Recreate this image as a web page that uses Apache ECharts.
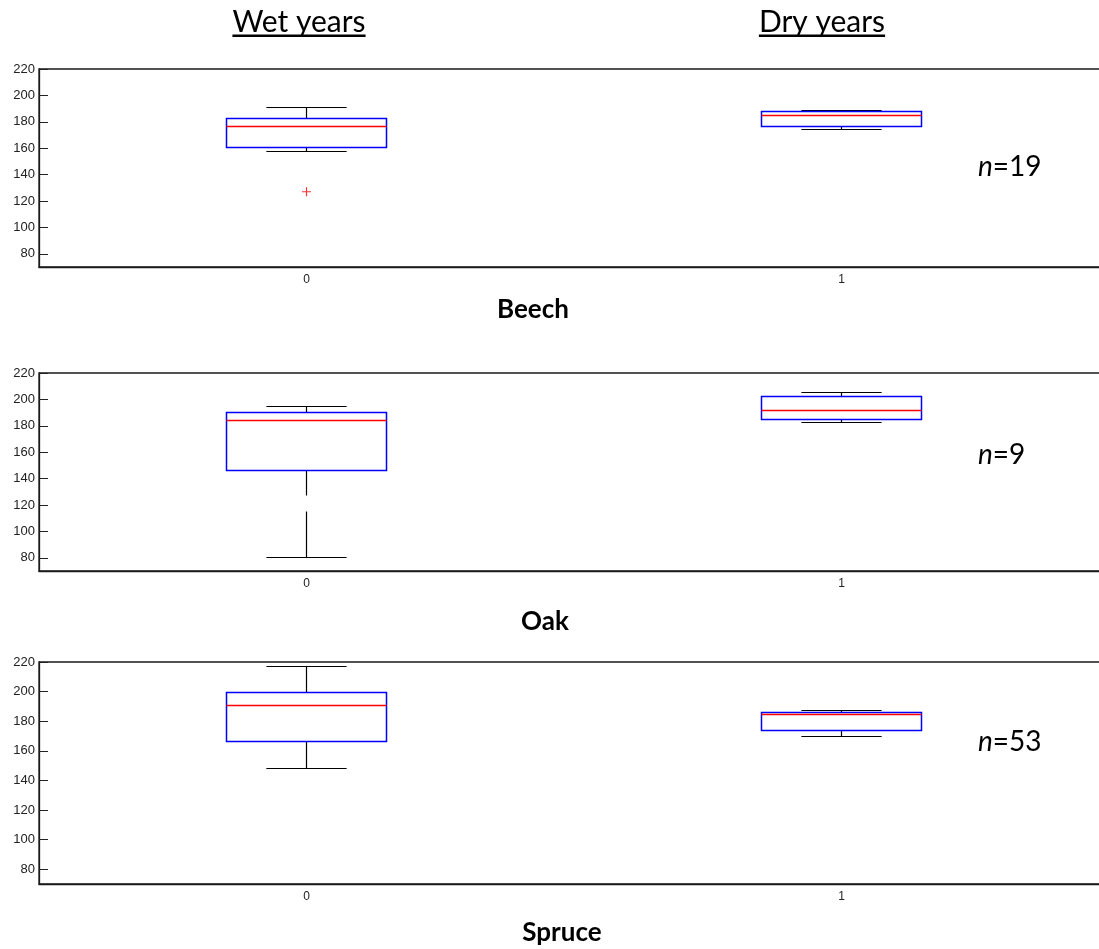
<!DOCTYPE html>
<html>
<head>
<meta charset="utf-8">
<script src="https://cdn.jsdelivr.net/npm/echarts@6/dist/echarts.min.js"></script>
<style>
html,body{margin:0;padding:0;background:#fff;}
#chart{width:1099px;height:949px;}
</style>
</head>
<body>
<div id="chart"></div>
<script>
// ---------- data ----------
const categories = ['0', '1'];
const groupTitles = ['Wet years', 'Dry years'];
const species = ['Beech', 'Oak', 'Spruce'];
const sampleSizes = ['19', '9', '53'];
const yTicks = [80, 100, 120, 140, 160, 180, 200, 220];
// each box: [lower whisker, Q1, median, Q3, upper whisker]
const beechWet = [157.3, 160.3, 176.3, 182.4, 190.5];
const beechDry = [173.8, 176.6, 184.7, 187.7, 188.8];
const oakWet = [80.3, 146.0, 183.8, 190.3, 194.4];
const oakDry = [182.2, 184.5, 191.4, 202.0, 205.3];
const spruceWet = [147.9, 166.4, 190.7, 199.3, 217.1];
const spruceDry = [170.0, 173.6, 184.8, 186.0, 186.9];
// outliers: [category index, value]
const beechOutliers = [[0, 127]];
const oakOutliers = [];
const spruceOutliers = [];
// visible break in the lower whisker of Oak / wet years: [from, to]
const oakWetWhiskerGap = [115, 127.2];

const panels = [
  { boxes: [beechWet, beechDry], gaps: [null, null], outliers: beechOutliers },
  { boxes: [oakWet, oakDry], gaps: [oakWetWhiskerGap, null], outliers: oakOutliers },
  { boxes: [spruceWet, spruceDry], gaps: [null, null], outliers: spruceOutliers }
];

// ---------- layout ----------
const gridPos = [
  { top: 69, height: 198 },
  { top: 373, height: 198 },
  { top: 662, height: 222 }
];
const AXIS_COLOR = '#1a1a1a';
const TICK_FONT = '"Liberation Sans", Arial, sans-serif';
const TEXT_FONT = 'Lato, "Open Sans", sans-serif';
const LW = 1.2;
const LW_COLOR = 1.5;

function crisp(v) { return Math.round(v - 0.5) + 0.5; }

function renderBox(params, api) {
  const ci = api.value(0);
  const lo = api.value(1), q1 = api.value(2), md = api.value(3), q3 = api.value(4), hi = api.value(5);
  const g1 = api.value(6), g2 = api.value(7);
  const band = api.size([1, 0])[0];
  const cx = crisp(api.coord([ci, md])[0]);
  const y = v => crisp(api.coord([ci, v])[1]);
  const boxHalf = band * 0.15, capHalf = band * 0.075;
  const blk = () => ({ stroke: '#000000', lineWidth: LW });
  const children = [];
  children.push({ type: 'line', shape: { x1: cx, y1: y(q3), x2: cx, y2: y(hi) }, style: blk() });
  if (!isNaN(g1) && !isNaN(g2)) {
    children.push({ type: 'line', shape: { x1: cx, y1: y(q1), x2: cx, y2: y(g2) }, style: blk() });
    children.push({ type: 'line', shape: { x1: cx, y1: y(g1), x2: cx, y2: y(lo) }, style: blk() });
  } else {
    children.push({ type: 'line', shape: { x1: cx, y1: y(q1), x2: cx, y2: y(lo) }, style: blk() });
  }
  children.push({ type: 'line', shape: { x1: cx - capHalf, y1: y(hi), x2: cx + capHalf, y2: y(hi) }, style: blk() });
  children.push({ type: 'line', shape: { x1: cx - capHalf, y1: y(lo), x2: cx + capHalf, y2: y(lo) }, style: blk() });
  const x0 = crisp(cx - boxHalf), x1 = crisp(cx + boxHalf);
  children.push({ type: 'rect', shape: { x: x0, y: y(q3), width: x1 - x0, height: y(q1) - y(q3) },
    style: { fill: 'none', stroke: '#0000ff', lineWidth: LW_COLOR } });
  children.push({ type: 'line', shape: { x1: x0, y1: y(md), x2: x1, y2: y(md) },
    style: { stroke: '#ff0000', lineWidth: LW_COLOR } });
  return { type: 'group', children: children };
}

const grids = [], xAxes = [], yAxes = [], series = [];
panels.forEach((p, i) => {
  grids.push({ left: 39, right: -10, top: gridPos[i].top, height: gridPos[i].height,
    outerBoundsMode: 'none', containLabel: false,
    show: true, borderColor: AXIS_COLOR, borderWidth: 1.3, backgroundColor: 'transparent' });
  xAxes.push({ type: 'category', gridIndex: i, data: categories, boundaryGap: true,
    axisLine: { lineStyle: { color: AXIS_COLOR, width: 1.3 } }, axisTick: { show: false },
    axisLabel: { color: '#222', fontSize: 12, fontFamily: TICK_FONT, margin: 7 }, splitLine: { show: false } });
  yAxes.push({ type: 'value', gridIndex: i, min: 70, max: 220, position: 'left',
    axisLine: { show: true, lineStyle: { color: AXIS_COLOR, width: 1.3 } },
    axisTick: { show: true, inside: true, length: 9, customValues: yTicks, lineStyle: { color: '#222' } },
    axisLabel: { customValues: yTicks, color: '#222', fontSize: 13, fontFamily: TICK_FONT, margin: 4 },
    splitLine: { show: false } });
  yAxes.push({ type: 'value', gridIndex: i, min: 70, max: 220, position: 'right',
    axisLine: { show: false },
    axisTick: { show: true, inside: true, length: 10, customValues: yTicks, lineStyle: { color: '#bbb' } },
    axisLabel: { show: false }, splitLine: { show: false } });
  series.push({ type: 'custom', xAxisIndex: i, yAxisIndex: i * 2, renderItem: renderBox, clip: false,
    encode: { x: 0, y: [1, 2, 3, 4, 5] },
    data: p.boxes.map((b, ci) => [ci, b[0], b[1], b[2], b[3], b[4],
      p.gaps[ci] ? p.gaps[ci][0] : null, p.gaps[ci] ? p.gaps[ci][1] : null]) });
  series.push({ type: 'scatter', xAxisIndex: i, yAxisIndex: i * 2, data: p.outliers,
    symbol: 'path://M0,5L10,5M5,0L5,10', symbolSize: 9,
    itemStyle: { color: 'none', borderColor: '#ff0000', borderWidth: 1.2 } });
});

// ---------- text graphics ----------
function textWidth(str, font) {
  const ctx = document.createElement('canvas').getContext('2d');
  ctx.font = font;
  return ctx.measureText(str).width;
}
const graphics = [];
const titleCenters = [299, 822];
const TITLE_SIZE = 30;
groupTitles.forEach((t, k) => {
  const w = textWidth(t, TITLE_SIZE + 'px Lato');
  graphics.push({ type: 'text', x: titleCenters[k], y: 22,
    style: { text: t, fontSize: TITLE_SIZE, fontFamily: TEXT_FONT, fill: '#000', align: 'center', verticalAlign: 'middle' } });
  graphics.push({ type: 'rect', shape: { x: titleCenters[k] - w / 2, y: 34.5, width: w, height: 2.5 },
    style: { fill: '#000' } });
});
const speciesPos = [[533, 310], [545, 622], [562, 933]];
species.forEach((s, i) => {
  graphics.push({ type: 'text', x: speciesPos[i][0], y: speciesPos[i][1],
    style: { text: s, fontSize: 26, fontWeight: 'bold', fontFamily: TEXT_FONT, fill: '#000', align: 'center', verticalAlign: 'middle' } });
});
const nPos = [[978, 167], [978, 455], [978, 742]];
sampleSizes.forEach((n, i) => {
  graphics.push({ type: 'text', x: nPos[i][0], y: nPos[i][1],
    style: { text: '{i|n}=' + n, fontSize: 28, fontFamily: TEXT_FONT, fill: '#000', align: 'left', verticalAlign: 'middle',
      rich: { i: { fontStyle: 'italic', fontSize: 28, fontFamily: TEXT_FONT } } } });
});

const chart = echarts.init(document.getElementById('chart'), null, { renderer: 'canvas' });
chart.setOption({
  animation: false,
  backgroundColor: '#fff',
  grid: grids,
  xAxis: xAxes,
  yAxis: yAxes,
  series: series,
  graphic: graphics
});
</script>
</body>
</html>
